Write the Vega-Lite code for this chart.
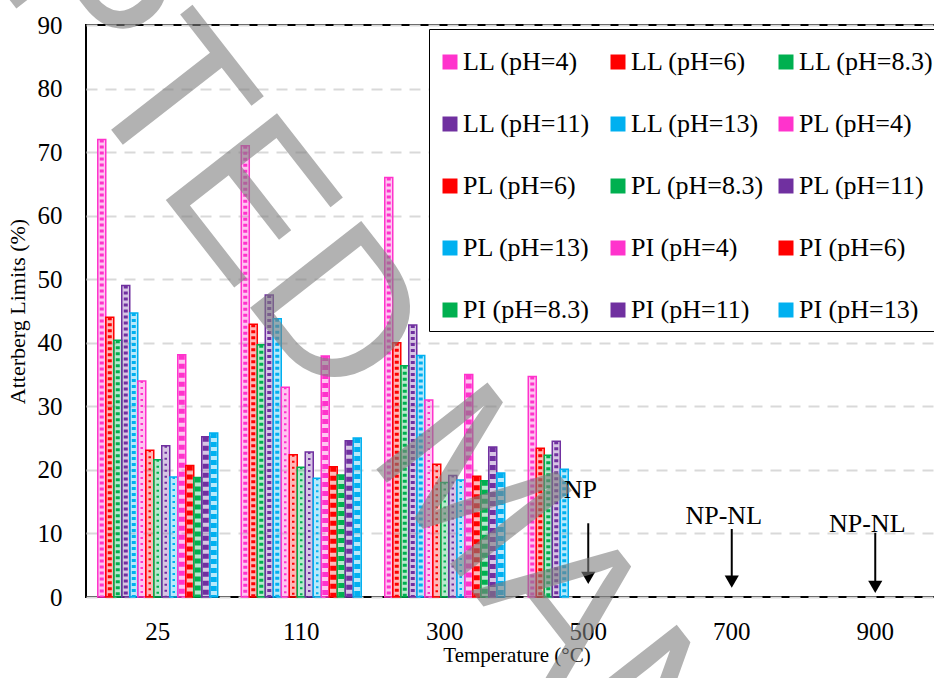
{
  "$schema": "https://vega.github.io/schema/vega-lite/v6.json",
  "width": 861,
  "height": 572,
  "autosize": "none",
  "padding": {"left": 86, "top": 25, "right": 0, "bottom": 81},
  "background": "white",
  "config": {
    "font": "Liberation Serif",
    "view": {"stroke": "black", "strokeWidth": 2},
    "style": {"guide-label": {"font": "Liberation Serif"}, "guide-title": {"font": "Liberation Serif"}},
    "axis": {"labelColor": "black", "titleColor": "black", "labelFont": "Liberation Serif", "titleFont": "Liberation Serif", "titleFontWeight": "normal", "ticks": false, "tickSize": 0, "domain": false},
    "legend": {"labelFont": "Liberation Serif", "titleFont": "Liberation Serif"}
  },
  "datasets": {
    "bars": [
      {"t": "25", "s": "LL (pH=4)", "type": "LL", "v": 72},
      {"t": "25", "s": "LL (pH=6)", "type": "LL", "v": 44},
      {"t": "25", "s": "LL (pH=8.3)", "type": "LL", "v": 40.4},
      {"t": "25", "s": "LL (pH=11)", "type": "LL", "v": 49},
      {"t": "25", "s": "LL (pH=13)", "type": "LL", "v": 44.7},
      {"t": "25", "s": "PL (pH=4)", "type": "PL", "v": 34},
      {"t": "25", "s": "PL (pH=6)", "type": "PL", "v": 23.1},
      {"t": "25", "s": "PL (pH=8.3)", "type": "PL", "v": 21.6},
      {"t": "25", "s": "PL (pH=11)", "type": "PL", "v": 23.8},
      {"t": "25", "s": "PL (pH=13)", "type": "PL", "v": 18.9},
      {"t": "25", "s": "PI (pH=4)", "type": "PI", "v": 38.1},
      {"t": "25", "s": "PI (pH=6)", "type": "PI", "v": 20.7},
      {"t": "25", "s": "PI (pH=8.3)", "type": "PI", "v": 18.8},
      {"t": "25", "s": "PI (pH=11)", "type": "PI", "v": 25.2},
      {"t": "25", "s": "PI (pH=13)", "type": "PI", "v": 25.8},
      {"t": "110", "s": "LL (pH=4)", "type": "LL", "v": 71},
      {"t": "110", "s": "LL (pH=6)", "type": "LL", "v": 42.9},
      {"t": "110", "s": "LL (pH=8.3)", "type": "LL", "v": 39.7},
      {"t": "110", "s": "LL (pH=11)", "type": "LL", "v": 47.5},
      {"t": "110", "s": "LL (pH=13)", "type": "LL", "v": 43.8},
      {"t": "110", "s": "PL (pH=4)", "type": "PL", "v": 33},
      {"t": "110", "s": "PL (pH=6)", "type": "PL", "v": 22.4},
      {"t": "110", "s": "PL (pH=8.3)", "type": "PL", "v": 20.4},
      {"t": "110", "s": "PL (pH=11)", "type": "PL", "v": 22.8},
      {"t": "110", "s": "PL (pH=13)", "type": "PL", "v": 18.7},
      {"t": "110", "s": "PI (pH=4)", "type": "PI", "v": 37.9},
      {"t": "110", "s": "PI (pH=6)", "type": "PI", "v": 20.5},
      {"t": "110", "s": "PI (pH=8.3)", "type": "PI", "v": 19.2},
      {"t": "110", "s": "PI (pH=11)", "type": "PI", "v": 24.6},
      {"t": "110", "s": "PI (pH=13)", "type": "PI", "v": 25},
      {"t": "300", "s": "LL (pH=4)", "type": "LL", "v": 66},
      {"t": "300", "s": "LL (pH=6)", "type": "LL", "v": 40},
      {"t": "300", "s": "LL (pH=8.3)", "type": "LL", "v": 36.4},
      {"t": "300", "s": "LL (pH=11)", "type": "LL", "v": 42.8},
      {"t": "300", "s": "LL (pH=13)", "type": "LL", "v": 38},
      {"t": "300", "s": "PL (pH=4)", "type": "PL", "v": 31},
      {"t": "300", "s": "PL (pH=6)", "type": "PL", "v": 20.9},
      {"t": "300", "s": "PL (pH=8.3)", "type": "PL", "v": 18},
      {"t": "300", "s": "PL (pH=11)", "type": "PL", "v": 19.1},
      {"t": "300", "s": "PL (pH=13)", "type": "PL", "v": 18.4},
      {"t": "300", "s": "PI (pH=4)", "type": "PI", "v": 35},
      {"t": "300", "s": "PI (pH=6)", "type": "PI", "v": 19},
      {"t": "300", "s": "PI (pH=8.3)", "type": "PI", "v": 18.3},
      {"t": "300", "s": "PI (pH=11)", "type": "PI", "v": 23.6},
      {"t": "300", "s": "PI (pH=13)", "type": "PI", "v": 19.5},
      {"t": "500", "s": "LL (pH=4)", "type": "LL", "v": 34.7},
      {"t": "500", "s": "LL (pH=6)", "type": "LL", "v": 23.4},
      {"t": "500", "s": "LL (pH=8.3)", "type": "LL", "v": 22.3},
      {"t": "500", "s": "LL (pH=11)", "type": "LL", "v": 24.5},
      {"t": "500", "s": "LL (pH=13)", "type": "LL", "v": 20.1}
    ],
    "notes": [
      {"t": "500", "label": "NP", "ty": 15.6, "top": 11.6, "head": 3.0},
      {"t": "700", "label": "NP-NL", "ty": 11.5, "top": 10.7, "head": 2.4},
      {"t": "900", "label": "NP-NL", "ty": 10.3, "top": 10.1, "head": 1.6}
    ],
    "mark": [
      {"t": "300", "w": "ACCEPTED MANUSCRIPT", "wy": 17.3}
    ]
  },
  "encoding": {
    "x": {
      "field": "t", "type": "nominal",
      "scale": {"domain": ["25", "110", "300", "500", "700", "900"], "paddingInner": 0.164, "paddingOuter": 0.082},
      "axis": {"labelAngle": 0, "labelFont": "Liberation Serif", "labelFontSize": 25, "labelPadding": 22, "title": "Temperature (°C)", "titleFont": "Liberation Serif", "titleFontSize": 21, "titlePadding": 0}
    },
    "y": {
      "type": "quantitative",
      "scale": {"domain": [0, 90], "nice": false},
      "axis": {"values": [0, 10, 20, 30, 40, 50, 60, 70, 80, 90], "labelFont": "Liberation Serif", "labelFontSize": 25, "labelPadding": 24, "title": "Atterberg Limits (%)", "titleFont": "Liberation Serif", "titleFontSize": 22, "titlePadding": 8, "grid": true, "gridColor": "#d9d9d9", "gridWidth": 2, "gridDash": [11, 8]}
    }
  },
  "layer": [
    {
      "data": {"name": "bars"},
      "mark": {"type": "bar", "fillOpacity": 0.28, "strokeWidth": 1.5},
      "encoding": {
        "xOffset": {"field": "s", "type": "nominal", "scale": {"domain": ["LL (pH=4)", "LL (pH=6)", "LL (pH=8.3)", "LL (pH=11)", "LL (pH=13)", "PL (pH=4)", "PL (pH=6)", "PL (pH=8.3)", "PL (pH=11)", "PL (pH=13)", "PI (pH=4)", "PI (pH=6)", "PI (pH=8.3)", "PI (pH=11)", "PI (pH=13)"], "paddingInner": 0, "paddingOuter": 0}},
        "y": {"field": "v"},
        "color": {
          "field": "s", "type": "nominal",
          "scale": {"domain": ["LL (pH=4)", "LL (pH=6)", "LL (pH=8.3)", "LL (pH=11)", "LL (pH=13)", "PL (pH=4)", "PL (pH=6)", "PL (pH=8.3)", "PL (pH=11)", "PL (pH=13)", "PI (pH=4)", "PI (pH=6)", "PI (pH=8.3)", "PI (pH=11)", "PI (pH=13)"],
                    "range": ["#ff33cc", "#ff0000", "#00b050", "#7030a0", "#00b0f0", "#ff33cc", "#ff0000", "#00b050", "#7030a0", "#00b0f0", "#ff33cc", "#ff0000", "#00b050", "#7030a0", "#00b0f0"]},
          "legend": {"orient": "none", "legendX": 343, "legendY": 4, "direction": "horizontal", "columns": 3, "title": " ", "titleFontSize": 6, "titlePadding": 6, "symbolType": "square", "symbolSize": 225, "symbolOpacity": 1, "symbolStrokeWidth": 0, "labelFont": "Liberation Serif", "labelFontSize": 26, "labelColor": "black", "labelOffset": 0, "labelLimit": 300, "rowPadding": 36, "columnPadding": 7, "gridAlign": "all", "fillColor": "white", "strokeColor": "black", "padding": 8}
        },
        "stroke": {
          "field": "s", "type": "nominal", "legend": null,
          "scale": {"domain": ["LL (pH=4)", "LL (pH=6)", "LL (pH=8.3)", "LL (pH=11)", "LL (pH=13)", "PL (pH=4)", "PL (pH=6)", "PL (pH=8.3)", "PL (pH=11)", "PL (pH=13)", "PI (pH=4)", "PI (pH=6)", "PI (pH=8.3)", "PI (pH=11)", "PI (pH=13)"],
                    "range": ["#ff33cc", "#ff0000", "#00b050", "#7030a0", "#00b0f0", "#ff33cc", "#ff0000", "#00b050", "#7030a0", "#00b0f0", "#ff33cc", "#ff0000", "#00b050", "#7030a0", "#00b0f0"]}
        }
      }
    },
    {
      "data": {"name": "bars"},
      "transform": [{"filter": "datum.type === 'LL'"}],
      "mark": {"type": "rule", "strokeWidth": 4, "strokeDash": [3, 3]},
      "encoding": {
        "xOffset": {"field": "s", "type": "nominal"},
        "y": {"field": "v"},
        "y2": {"datum": 0},
        "color": {"field": "s", "type": "nominal"}
      }
    },
    {
      "data": {"name": "bars"},
      "transform": [{"filter": "datum.type === 'PL'"}],
      "mark": {"type": "rule", "strokeWidth": 2.5, "strokeDash": [2, 4]},
      "encoding": {
        "xOffset": {"field": "s", "type": "nominal"},
        "y": {"field": "v"},
        "y2": {"datum": 0},
        "color": {"field": "s", "type": "nominal"}
      }
    },
    {
      "data": {"name": "bars"},
      "transform": [{"filter": "datum.type === 'PI'"}],
      "mark": {"type": "rule", "strokeWidth": 6, "strokeDash": [5, 4]},
      "encoding": {
        "xOffset": {"field": "s", "type": "nominal"},
        "y": {"field": "v"},
        "y2": {"datum": 0},
        "color": {"field": "s", "type": "nominal"}
      }
    },
    {
      "data": {"name": "notes"},
      "mark": {"type": "text", "fontSize": 26, "font": "Liberation Serif", "color": "black", "baseline": "alphabetic", "dx": -8},
      "encoding": {"y": {"field": "ty"}, "text": {"field": "label"}}
    },
    {
      "data": {"name": "notes"},
      "mark": {"type": "rule", "color": "black", "strokeWidth": 2, "dx": -5},
      "encoding": {"y": {"field": "top"}, "y2": {"field": "head"}}
    },
    {
      "data": {"name": "notes"},
      "mark": {"type": "point", "shape": "triangle-down", "filled": true, "color": "black", "opacity": 1, "size": 200, "dx": -5},
      "encoding": {"y": {"field": "head"}}
    },
    {
      "data": {"name": "mark"},
      "mark": {"type": "text", "font": "Liberation Sans", "fontWeight": "normal", "fontSize": 205, "angle": 52, "align": "center", "baseline": "middle", "color": "#7f7f7f", "opacity": 0.6, "dx": 18, "dy": -19, "clip": false},
      "encoding": {"y": {"field": "wy"}, "text": {"field": "w"}}
    }
  ]
}
